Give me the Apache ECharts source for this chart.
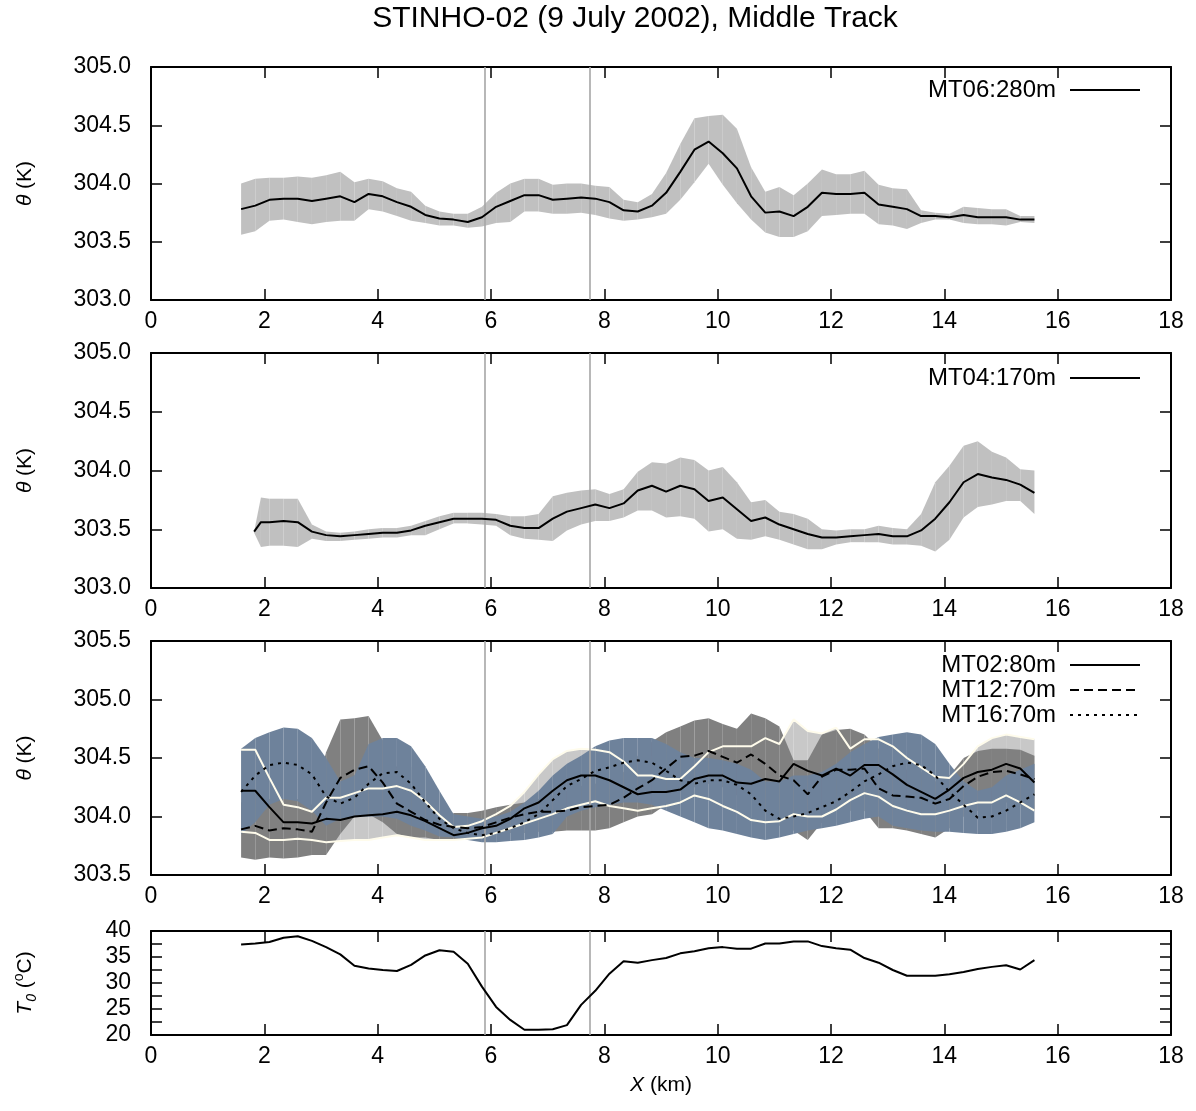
<!DOCTYPE html>
<html>
<head>
<meta charset="utf-8">
<script src="https://cdn.jsdelivr.net/npm/echarts@6/dist/echarts.min.js"></script>
<style>html,body{margin:0;padding:0;background:#fff}#c{width:1196px;height:1111px}</style>
</head>
<body>
<div id="c"></div>
<script>
// ---------------- data ----------------
const titleText = 'STINHO-02 (9 July 2002), Middle Track';
const refLines = [5.89, 7.75];

const xGrid = [1.59, 1.84, 2.09, 2.34, 2.59, 2.84, 3.09, 3.34, 3.59, 3.84, 4.09, 4.34, 4.59, 4.84, 5.09, 5.34, 5.59, 5.84, 6.09, 6.34, 6.59, 6.84, 7.09, 7.34, 7.59, 7.84, 8.09, 8.34, 8.59, 8.84, 9.09, 9.34, 9.59, 9.84, 10.09, 10.34, 10.59, 10.84, 11.09, 11.34, 11.59, 11.84, 12.09, 12.34, 12.59, 12.84, 13.09, 13.34, 13.59, 13.84, 14.09, 14.34, 14.59, 14.84, 15.09, 15.34, 15.59];
const xMT04 = [1.82, 1.94, 2.09, 2.34, 2.59, 2.84, 3.09, 3.34, 3.59, 3.84, 4.09, 4.34, 4.59, 4.84, 5.09, 5.34, 5.59, 5.84, 6.09, 6.34, 6.59, 6.84, 7.09, 7.34, 7.59, 7.84, 8.09, 8.34, 8.59, 8.84, 9.09, 9.34, 9.59, 9.84, 10.09, 10.34, 10.59, 10.84, 11.09, 11.34, 11.59, 11.84, 12.09, 12.34, 12.59, 12.84, 13.09, 13.34, 13.59, 13.84, 14.09, 14.34, 14.59, 14.84, 15.09, 15.34, 15.59];

// Panel 1: MT06 (280 m)
const mt06 = [303.78, 303.81, 303.86, 303.87, 303.87, 303.85, 303.87, 303.89, 303.84, 303.91, 303.89, 303.84, 303.80, 303.73, 303.70, 303.69, 303.67, 303.71, 303.80, 303.85, 303.90, 303.90, 303.86, 303.87, 303.88, 303.87, 303.84, 303.77, 303.76, 303.81, 303.92, 304.10, 304.29, 304.36, 304.26, 304.13, 303.89, 303.75, 303.76, 303.72, 303.80, 303.92, 303.91, 303.91, 303.92, 303.82, 303.80, 303.78, 303.72, 303.72, 303.71, 303.73, 303.71, 303.71, 303.71, 303.69, 303.69];
const mt06Hi = [304.00, 304.04, 304.05, 304.05, 304.06, 304.05, 304.07, 304.10, 304.01, 304.04, 304.02, 303.96, 303.93, 303.81, 303.76, 303.74, 303.74, 303.80, 303.92, 304.00, 304.04, 304.04, 303.99, 304.00, 304.00, 303.98, 303.97, 303.86, 303.84, 303.91, 304.09, 304.34, 304.56, 304.58, 304.59, 304.47, 304.14, 303.93, 303.97, 303.90, 304.00, 304.12, 304.08, 304.08, 304.11, 303.99, 303.96, 303.95, 303.77, 303.75, 303.74, 303.80, 303.79, 303.78, 303.78, 303.72, 303.72];
const mt06Lo = [303.56, 303.59, 303.68, 303.69, 303.67, 303.65, 303.67, 303.68, 303.68, 303.78, 303.76, 303.72, 303.68, 303.66, 303.64, 303.64, 303.62, 303.63, 303.66, 303.67, 303.76, 303.76, 303.74, 303.74, 303.75, 303.73, 303.70, 303.68, 303.69, 303.71, 303.74, 303.86, 304.01, 304.17, 303.99, 303.83, 303.69, 303.58, 303.54, 303.54, 303.59, 303.72, 303.73, 303.74, 303.74, 303.65, 303.64, 303.61, 303.66, 303.69, 303.69, 303.66, 303.65, 303.65, 303.64, 303.67, 303.66];

// Panel 2: MT04 (170 m)
const mt04 = [303.48, 303.56, 303.56, 303.57, 303.56, 303.48, 303.45, 303.44, 303.45, 303.46, 303.47, 303.47, 303.49, 303.53, 303.56, 303.59, 303.59, 303.59, 303.58, 303.53, 303.51, 303.51, 303.59, 303.65, 303.68, 303.71, 303.68, 303.72, 303.83, 303.87, 303.82, 303.87, 303.84, 303.74, 303.77, 303.67, 303.57, 303.60, 303.54, 303.50, 303.46, 303.43, 303.43, 303.44, 303.45, 303.46, 303.44, 303.44, 303.49, 303.59, 303.73, 303.90, 303.97, 303.94, 303.92, 303.88, 303.81];
const mt04Hi = [303.48, 303.77, 303.76, 303.76, 303.76, 303.54, 303.48, 303.47, 303.48, 303.50, 303.51, 303.51, 303.53, 303.57, 303.61, 303.64, 303.64, 303.64, 303.63, 303.61, 303.61, 303.63, 303.78, 303.81, 303.83, 303.84, 303.80, 303.84, 303.99, 304.07, 304.06, 304.11, 304.09, 304.00, 304.03, 303.90, 303.73, 303.75, 303.65, 303.63, 303.59, 303.50, 303.49, 303.50, 303.50, 303.53, 303.51, 303.50, 303.63, 303.90, 304.04, 304.21, 304.25, 304.16, 304.11, 304.01, 304.00];
const mt04Lo = [303.47, 303.35, 303.36, 303.36, 303.35, 303.42, 303.40, 303.40, 303.41, 303.42, 303.43, 303.43, 303.45, 303.45, 303.50, 303.55, 303.55, 303.54, 303.53, 303.45, 303.42, 303.41, 303.40, 303.49, 303.54, 303.57, 303.57, 303.60, 303.66, 303.66, 303.60, 303.61, 303.59, 303.48, 303.50, 303.42, 303.41, 303.44, 303.41, 303.37, 303.33, 303.33, 303.37, 303.39, 303.39, 303.39, 303.37, 303.37, 303.36, 303.31, 303.41, 303.60, 303.69, 303.71, 303.74, 303.74, 303.63];

// Panel 3: MT02 (80 m), MT12 (70 m), MT16 (70 m)
const mt02 = [304.22, 304.22, 304.08, 303.95, 303.95, 303.94, 303.98, 303.97, 304.00, 304.01, 304.02, 304.04, 304.01, 303.96, 303.90, 303.84, 303.86, 303.90, 303.92, 303.98, 304.07, 304.12, 304.22, 304.31, 304.35, 304.35, 304.31, 304.25, 304.19, 304.21, 304.21, 304.23, 304.32, 304.35, 304.35, 304.29, 304.28, 304.32, 304.30, 304.45, 304.39, 304.35, 304.41, 304.35, 304.44, 304.44, 304.36, 304.27, 304.21, 304.15, 304.23, 304.33, 304.38, 304.40, 304.45, 304.41, 304.29];
const mt02Hi = [304.57, 304.57, 304.33, 304.10, 304.08, 304.04, 304.16, 304.16, 304.20, 304.24, 304.24, 304.26, 304.22, 304.13, 304.01, 303.91, 303.92, 303.96, 304.02, 304.09, 304.21, 304.36, 304.49, 304.56, 304.58, 304.57, 304.55, 304.47, 304.35, 304.35, 304.32, 304.32, 304.43, 304.55, 304.60, 304.60, 304.60, 304.67, 304.62, 304.83, 304.73, 304.71, 304.76, 304.58, 304.66, 304.66, 304.60, 304.50, 304.42, 304.34, 304.33, 304.45, 304.60, 304.67, 304.70, 304.68, 304.66];
const mt02Lo = [303.87, 303.86, 303.80, 303.80, 303.81, 303.80, 303.78, 303.79, 303.80, 303.80, 303.82, 303.84, 303.82, 303.80, 303.80, 303.80, 303.81, 303.82, 303.86, 303.90, 303.94, 303.98, 304.02, 304.07, 304.10, 304.13, 304.09, 304.07, 304.05, 304.07, 304.09, 304.12, 304.18, 304.15, 304.09, 304.04, 303.97, 303.95, 303.96, 304.02, 304.00, 304.00, 304.06, 304.14, 304.20, 304.17, 304.09, 304.05, 304.02, 304.02, 304.05, 304.09, 304.12, 304.12, 304.18, 304.12, 304.05];

const mt12 = [303.89, 303.92, 303.88, 303.90, 303.89, 303.87, 304.12, 304.33, 304.40, 304.43, 304.29, 304.11, 304.04, 303.97, 303.93, 303.91, 303.90, 303.91, 303.95, 303.99, 304.02, 304.04, 304.04, 304.05, 304.08, 304.09, 304.10, 304.16, 304.24, 304.31, 304.41, 304.51, 304.52, 304.56, 304.51, 304.46, 304.53, 304.45, 304.35, 304.31, 304.19, 304.34, 304.40, 304.40, 304.41, 304.24, 304.18, 304.17, 304.16, 304.11, 304.15, 304.26, 304.34, 304.38, 304.39, 304.36, 304.32];
const mt12Hi = [304.12, 304.20, 304.15, 304.15, 304.15, 304.10, 304.55, 304.83, 304.84, 304.86, 304.65, 304.42, 304.25, 304.12, 304.05, 304.03, 304.03, 304.05, 304.08, 304.10, 304.12, 304.15, 304.18, 304.22, 304.26, 304.28, 304.30, 304.38, 304.52, 304.64, 304.72, 304.77, 304.82, 304.84, 304.79, 304.75, 304.88, 304.84, 304.77, 304.48, 304.48, 304.70, 304.74, 304.75, 304.70, 304.58, 304.45, 304.40, 304.38, 304.30, 304.35, 304.50, 304.56, 304.58, 304.58, 304.57, 304.52];
const mt12Lo = [303.65, 303.63, 303.65, 303.64, 303.65, 303.67, 303.67, 303.85, 304.00, 304.02, 303.95, 303.85, 303.82, 303.82, 303.80, 303.80, 303.80, 303.82, 303.85, 303.86, 303.86, 303.87, 303.87, 303.88, 303.88, 303.88, 303.90, 303.95, 304.00, 304.02, 304.10, 304.25, 304.25, 304.28, 304.25, 304.18, 304.18, 304.05, 303.92, 303.88, 303.80, 303.95, 304.05, 304.05, 304.05, 303.90, 303.90, 303.88, 303.85, 303.82, 303.90, 304.00, 304.05, 304.10, 304.12, 304.10, 304.05];

const mt16 = [304.21, 304.35, 304.44, 304.46, 304.44, 304.36, 304.17, 304.11, 304.16, 304.28, 304.37, 304.38, 304.28, 304.12, 303.98, 303.90, 303.86, 303.84, 303.86, 303.90, 303.95, 304.02, 304.14, 304.26, 304.32, 304.39, 304.42, 304.46, 304.48, 304.46, 304.39, 304.31, 304.28, 304.31, 304.31, 304.27, 304.19, 304.05, 303.98, 304.00, 304.03, 304.08, 304.13, 304.21, 304.30, 304.36, 304.43, 304.46, 304.44, 304.35, 304.21, 304.10, 303.99, 304.00, 304.05, 304.12, 304.19];
const mt16Hi = [304.58, 304.67, 304.72, 304.76, 304.75, 304.67, 304.50, 304.30, 304.35, 304.62, 304.67, 304.67, 304.60, 304.43, 304.22, 304.02, 304.00, 303.98, 304.00, 304.04, 304.12, 304.22, 304.35, 304.45, 304.52, 304.60, 304.65, 304.67, 304.67, 304.67, 304.62, 304.55, 304.50, 304.50, 304.48, 304.45, 304.40, 304.30, 304.30, 304.35, 304.35, 304.38, 304.45, 304.55, 304.62, 304.68, 304.70, 304.72, 304.70, 304.62, 304.45, 304.30, 304.22, 304.25, 304.35, 304.40, 304.45];
const mt16Lo = [303.85, 303.95, 304.10, 304.15, 304.13, 304.05, 303.92, 303.98, 304.00, 304.00, 304.00, 303.98, 303.92, 303.88, 303.83, 303.82, 303.80, 303.78, 303.78, 303.79, 303.80, 303.82, 303.85, 304.00, 304.05, 304.08, 304.10, 304.12, 304.12, 304.10, 304.05, 304.00, 303.95, 303.90, 303.88, 303.85, 303.82, 303.80, 303.82, 303.85, 303.88, 303.90, 303.92, 303.95, 303.98, 304.00, 303.92, 303.90, 303.88, 303.87, 303.87, 303.86, 303.85, 303.85, 303.87, 303.90, 303.95];

// Panel 4: surface temperature T0 (deg C)
const t0 = [37.4, 37.6, 37.9, 38.7, 39.0, 38.1, 36.9, 35.5, 33.3, 32.8, 32.5, 32.3, 33.5, 35.3, 36.3, 36.0, 33.7, 29.3, 25.4, 22.9, 21.0, 21.0, 21.1, 21.9, 25.8, 28.5, 31.8, 34.2, 33.9, 34.4, 34.8, 35.7, 36.1, 36.7, 36.9, 36.6, 36.6, 37.6, 37.6, 38.0, 38.0, 37.1, 36.7, 36.4, 34.8, 33.9, 32.5, 31.4, 31.4, 31.4, 31.7, 32.1, 32.7, 33.1, 33.4, 32.6, 34.4];

// ---------------- chart ----------------
const FONT = "'Liberation Sans', Arial, Helvetica, sans-serif";
const TICK_FS = 23;
const chart = echarts.init(document.getElementById('c'), null, {renderer: 'canvas'});

const grids = [
  {left: 151, width: 1020, top: 67, height: 233},
  {left: 151, width: 1020, top: 353, height: 235},
  {left: 151, width: 1020, top: 641, height: 234},
  {left: 151, width: 1020, top: 931, height: 104}
];
const yRanges = [[303, 305, 0.5], [303, 305, 0.5], [303.5, 305.5, 0.5], [20, 40, 2.5]];

const lineAx = {show: true, onZero: false, lineStyle: {color: '#000', width: 2}};
const tickAx = {show: true, inside: true, length: 11, lineStyle: {color: '#000', width: 1.5}};
const xAxes = [], yAxes = [];
grids.forEach((g, gi) => {
  const xb = {type: 'value', gridIndex: gi, min: 0, max: 18, interval: 2, axisLine: lineAx, axisTick: tickAx, splitLine: {show: false}};
  const bottom = Object.assign({}, xb, {position: 'bottom',
    axisLabel: {show: true, margin: 10, fontSize: TICK_FS, color: '#000', fontFamily: FONT}});
  if (gi === 3) {
    Object.assign(bottom, {name: '{i|X} (km)', nameLocation: 'middle', nameGap: 40,
      nameTextStyle: {fontSize: 21, color: '#000', fontFamily: FONT,
        rich: {i: {fontStyle: 'italic', fontSize: 21, color: '#000', fontFamily: FONT}}}});
  }
  xAxes.push(bottom);
  xAxes.push(Object.assign({}, xb, {position: 'top', axisLabel: {show: false}}));
  const [mn, mx, iv] = yRanges[gi];
  const yb = {type: 'value', gridIndex: gi, min: mn, max: mx, interval: iv, axisLine: lineAx, axisTick: tickAx, splitLine: {show: false}, scale: true};
  const left = Object.assign({}, yb, {position: 'left',
    axisLabel: {show: true, margin: 20, fontSize: TICK_FS, color: '#000', fontFamily: FONT,
      formatter: gi === 3 ? (v => (Math.abs(v % 5) < 1e-9 ? String(v) : '')) : (v => v.toFixed(1))}});
  if (gi < 3) {
    Object.assign(left, {name: '{i|θ} (K)', nameLocation: 'middle', nameRotate: 90, nameGap: 115,
      nameTextStyle: {fontSize: 21, color: '#000', fontFamily: FONT,
        rich: {i: {fontStyle: 'italic', fontSize: 21, color: '#000', fontFamily: FONT}}}});
  } else {
    Object.assign(left, {name: '{i|T}{s|0} ({p|o}C)', nameLocation: 'middle', nameRotate: 90, nameGap: 112,
      nameTextStyle: {fontSize: 21, color: '#000', fontFamily: FONT, lineHeight: 27,
        rich: {
          i: {fontStyle: 'italic', fontSize: 21, color: '#000', fontFamily: FONT, lineHeight: 27},
          s: {fontStyle: 'italic', fontSize: 14, color: '#000', fontFamily: FONT, lineHeight: 14, verticalAlign: 'bottom'},
          p: {fontSize: 14, color: '#000', fontFamily: FONT, lineHeight: 14, verticalAlign: 'top'}
        }}});
  }
  yAxes.push(left);
  yAxes.push(Object.assign({}, yb, {position: 'right', axisLabel: {show: false}}));
});

function pairs(xs, ys) { return xs.map((x, i) => [x, ys[i]]); }

function band(name, gi, xs, lo, hi, color) {
  const data = [];
  for (let i = 0; i < xs.length - 1; i++) data.push([xs[i], lo[i], hi[i], xs[i + 1], lo[i + 1], hi[i + 1]]);
  return {
    type: 'custom', name: name, xAxisIndex: gi * 2, yAxisIndex: gi * 2, z: 2, silent: true,
    dimensions: ['x0', 'lo0', 'hi0', 'x1', 'lo1', 'hi1'],
    encode: {x: ['x0', 'x1'], y: ['lo0', 'hi0', 'lo1', 'hi1']},
    renderItem: function (params, api) {
      const a = api.coord([api.value(0), api.value(2)]);
      const b = api.coord([api.value(3), api.value(5)]);
      const c = api.coord([api.value(3), api.value(4)]);
      const d = api.coord([api.value(0), api.value(1)]);
      return {type: 'polygon', shape: {points: [a, b, c, d]}, style: {fill: color}};
    },
    data: data
  };
}

function line(name, gi, xs, ys, opts) {
  return Object.assign({
    type: 'line', name: name, xAxisIndex: gi * 2, yAxisIndex: gi * 2, z: 5,
    symbol: 'none', showSymbol: false, silent: true,
    lineStyle: {color: '#000', width: 2, type: 'solid'},
    itemStyle: {color: '#000'},
    data: pairs(xs, ys)
  }, opts || {});
}

function refSeries(gi) {
  return {
    type: 'line', name: 'ref' + gi, xAxisIndex: gi * 2, yAxisIndex: gi * 2, z: 1, data: [],
    markLine: {silent: true, symbol: 'none', label: {show: false}, animation: false,
      lineStyle: {color: '#a6a6a6', width: 1.6, type: 'solid'},
      data: refLines.map(v => ({xAxis: v}))}
  };
}

const series = [
  refSeries(0), refSeries(1), refSeries(2), refSeries(3),
  band('band06', 0, xGrid, mt06Lo, mt06Hi, '#c0c0c0'),
  line('MT06:280m', 0, xGrid, mt06),
  band('band04', 1, xMT04, mt04Lo, mt04Hi, '#c0c0c0'),
  line('MT04:170m', 1, xMT04, mt04),
  band('band02', 2, xGrid, mt02Lo, mt02Hi, '#c8c8c8'),
  band('band12', 2, xGrid, mt12Lo, mt12Hi, '#808080'),
  band('band16', 2, xGrid, mt16Lo, mt16Hi, '#6e829b'),
  line('edge02hi', 2, xGrid, mt02Hi, {z: 3, lineStyle: {color: '#fffcec', width: 2}}),
  line('edge02lo', 2, xGrid, mt02Lo, {z: 3, lineStyle: {color: '#fffcec', width: 2}}),
  line('MT02:80m', 2, xGrid, mt02),
  line('MT12:70m', 2, xGrid, mt12, {lineStyle: {color: '#000', width: 2, type: [9, 5]}}),
  line('MT16:70m', 2, xGrid, mt16, {lineStyle: {color: '#000', width: 2, type: [3, 5]}}),
  line('T0', 3, xGrid, t0)
];

function legend(names, top) {
  return {
    data: names, right: 55, top: top, orient: 'vertical', align: 'right', padding: 0,
    itemWidth: 70, itemHeight: 14, itemGap: 1, selectedMode: false,
    itemStyle: {opacity: 0, borderWidth: 0},
    textStyle: {fontSize: 24, color: '#000', fontFamily: FONT, lineHeight: 24, padding: [0, 9, 0, 0]}
  };
}

chart.setOption({
  animation: false,
  backgroundColor: '#fff',
  textStyle: {fontFamily: FONT},
  grid: grids.map(g => Object.assign({containLabel: false, outerBoundsMode: 'none'}, g)),
  xAxis: xAxes,
  yAxis: yAxes,
  legend: [legend(['MT06:280m'], 78), legend(['MT04:170m'], 366), legend(['MT02:80m', 'MT12:70m', 'MT16:70m'], 653)],
  graphic: [{type: 'text', x: 635, y: 19, silent: true,
    style: {text: titleText, fontSize: 30, fontFamily: FONT, fill: '#000', align: 'center', verticalAlign: 'middle'}}],
  series: series
});
</script>
</body>
</html>
